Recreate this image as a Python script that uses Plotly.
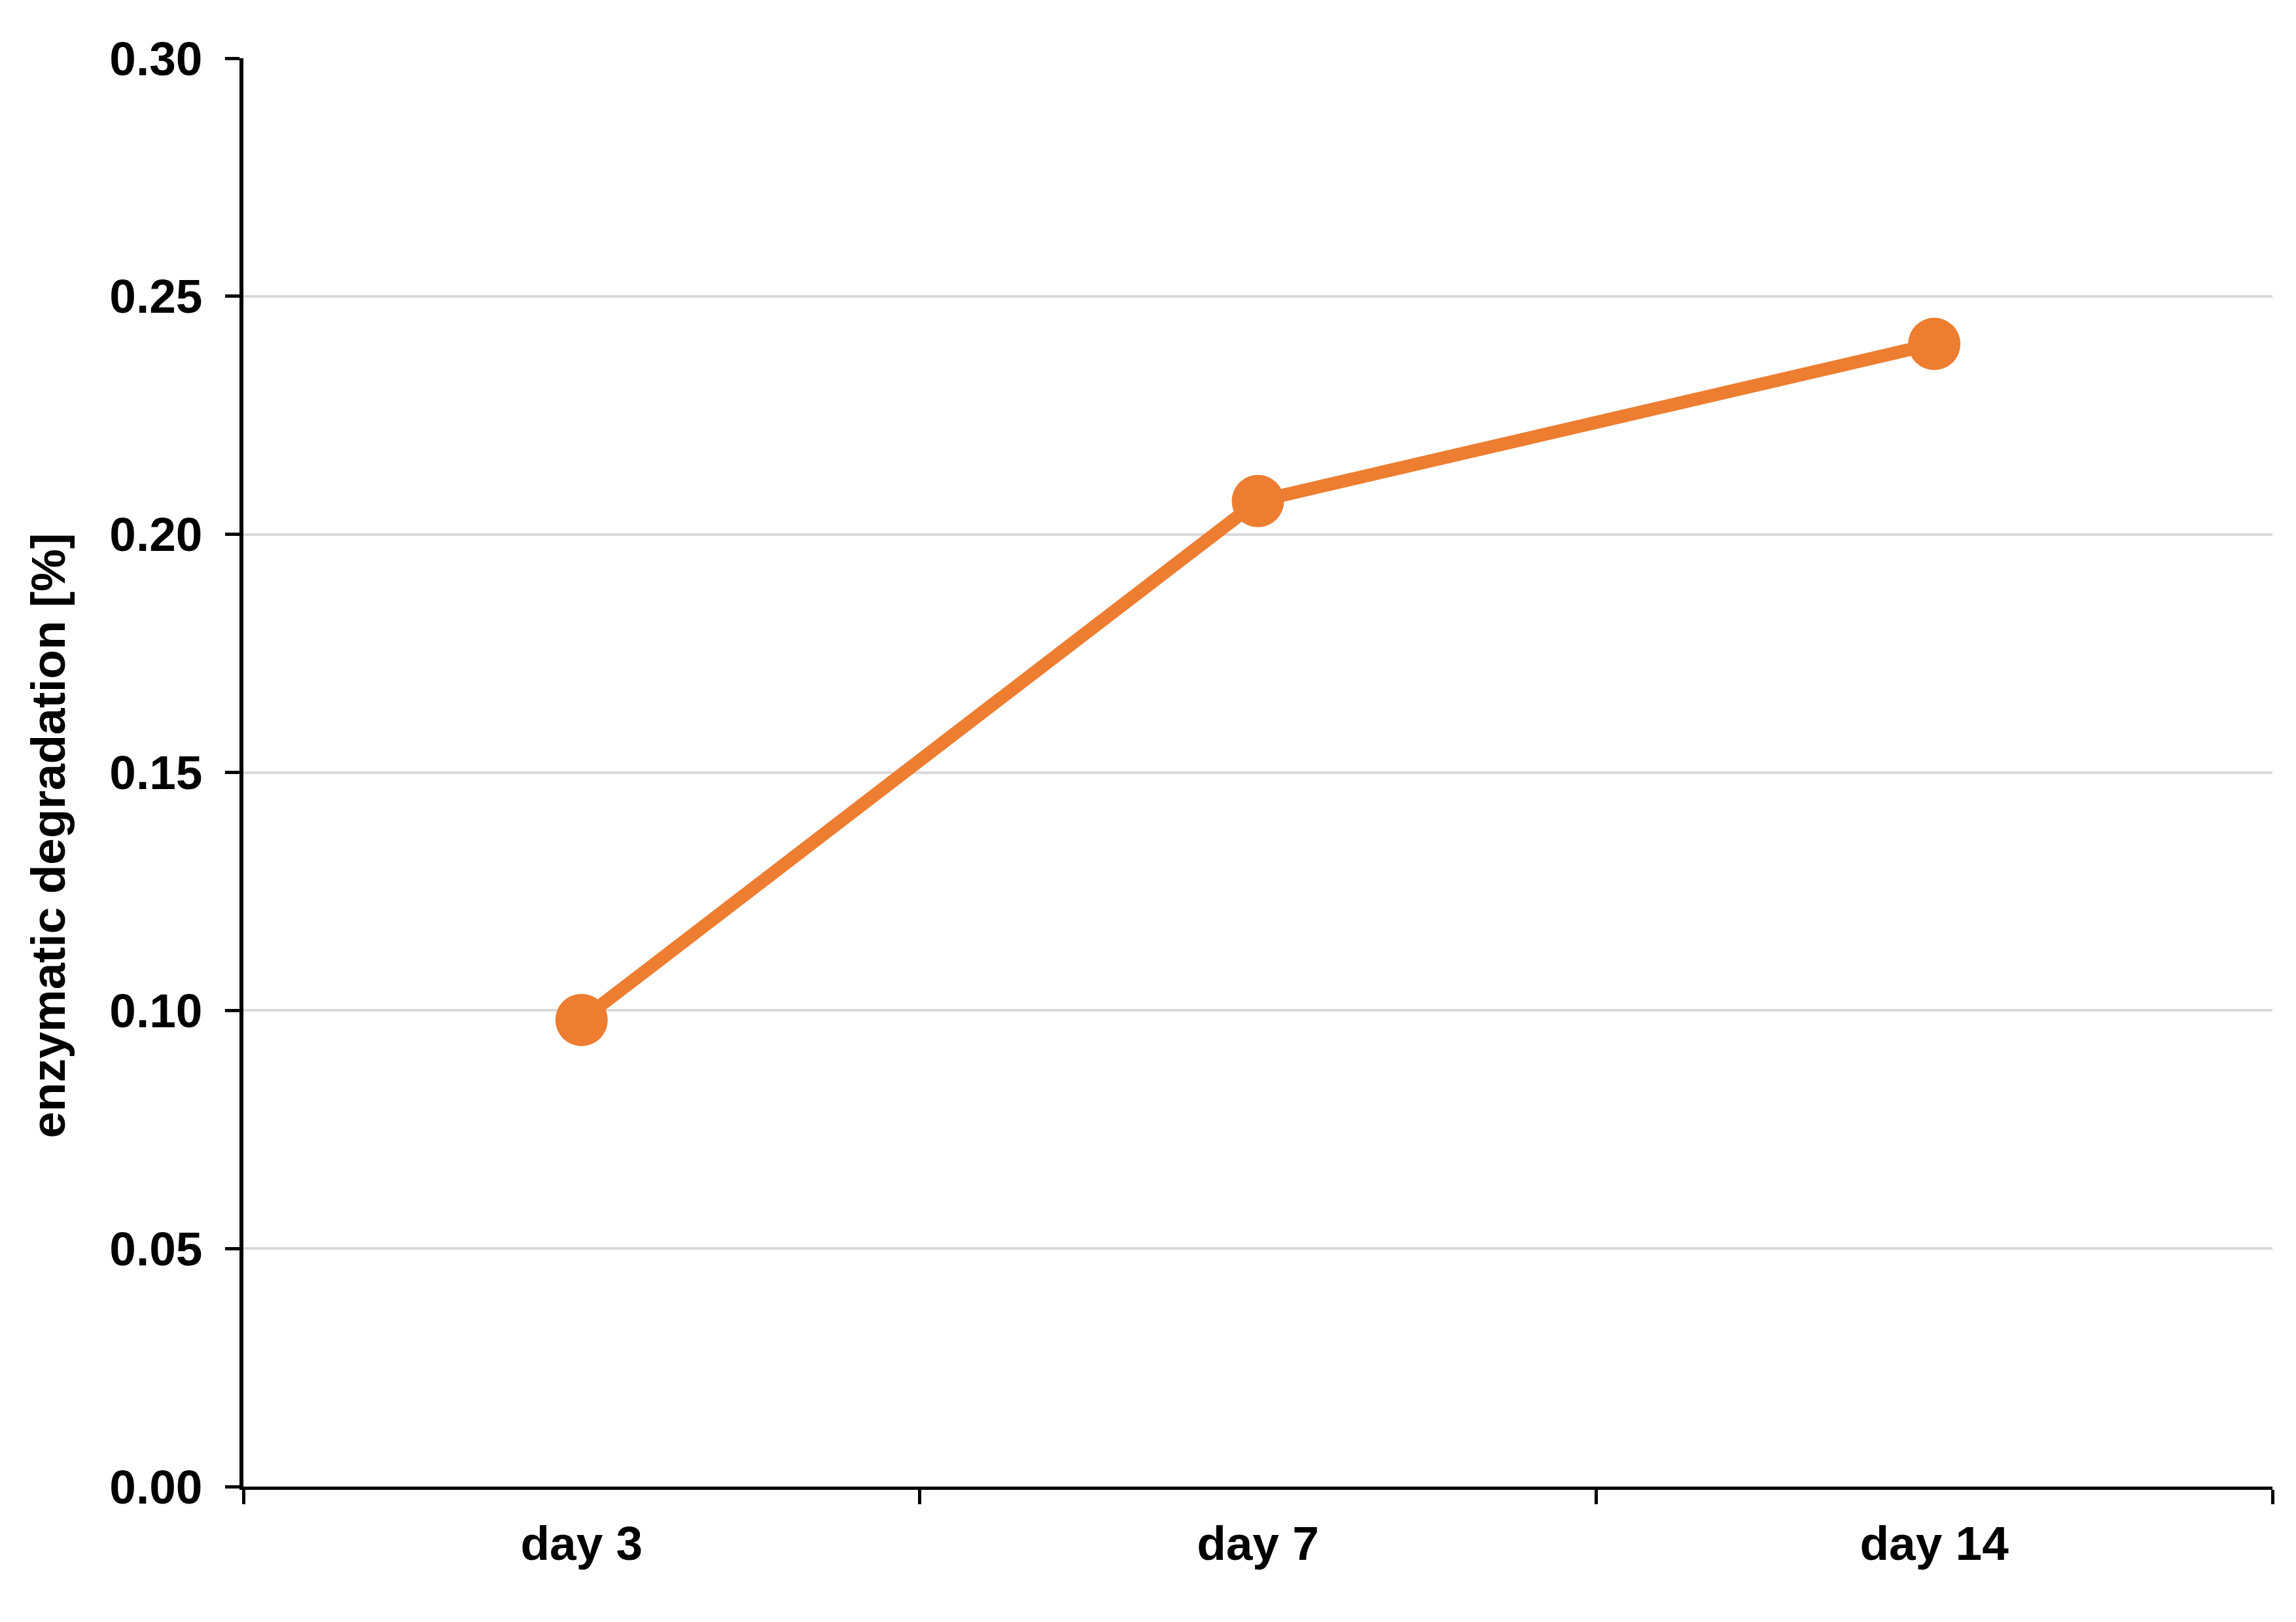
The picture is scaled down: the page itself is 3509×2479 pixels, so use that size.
import plotly.graph_objects as go

categories = ["day 3", "day 7", "day 14"]
values = [0.098, 0.207, 0.240]
y_tickvals = [0.00, 0.05, 0.10, 0.15, 0.20, 0.25, 0.30]
y_title = "enzymatic degradation [%]"

W, H = 3509, 2479
# browser body margin (8px) shifts the figure; compensate in margins
L, R, T, B = 364, 44, 81, 215
ORANGE = "#ED7D31"
FONT = "Liberation Sans, Arial, sans-serif"

fig = go.Figure()
fig.add_trace(go.Scatter(
    x=categories, y=values, mode="lines+markers",
    line=dict(color=ORANGE, width=20),
    marker=dict(color=ORANGE, size=80),
    showlegend=False, cliponaxis=False,
))

fig.update_layout(
    width=W, height=H,
    margin=dict(l=L, r=R, t=T, b=B, pad=0),
    paper_bgcolor="white", plot_bgcolor="white",
    font=dict(family=FONT, size=73, color="black"),
)
fig.update_xaxes(
    type="category", range=[-0.5, 2.5],
    tickson="boundaries", ticks="outside", ticklen=22, tickwidth=5, tickcolor="black",
    showline=True, linecolor="black", linewidth=5,
    showgrid=False, zeroline=False,
    tickfont=dict(family=FONT, size=73, color="black", weight="bold"),
    ticklabelstandoff=19,
)
fig.update_yaxes(
    range=[0, 0.30], tickvals=y_tickvals, tickformat=".2f",
    ticks="outside", ticklen=22, tickwidth=5, tickcolor="black",
    showline=True, linecolor="black", linewidth=6,
    showgrid=True, gridcolor="#D9D9D9", gridwidth=4, zeroline=False,
    tickfont=dict(family=FONT, size=73, color="black", weight="bold"),
    ticklabelstandoff=20,
)
fig.add_annotation(
    text=y_title, textangle=-90, showarrow=False,
    xref="paper", yref="paper", x=-0.0961, y=0.456,
    xanchor="center", yanchor="middle",
    font=dict(family=FONT, size=73, color="black", weight="bold"),
)

fig.write_html("out.html")
